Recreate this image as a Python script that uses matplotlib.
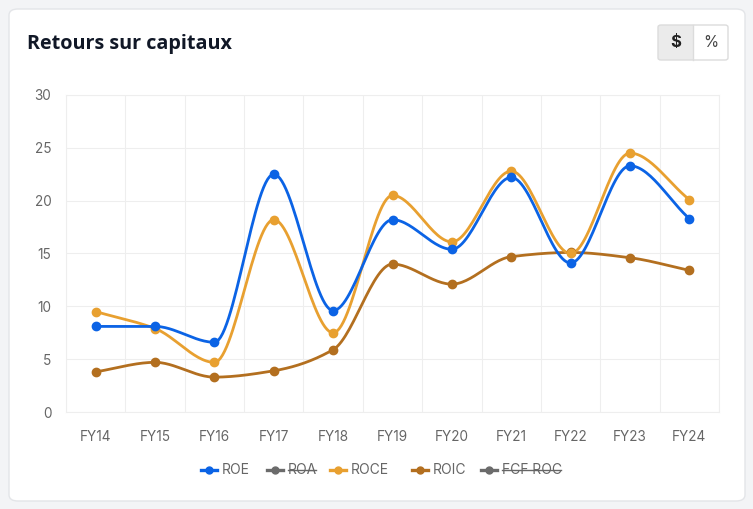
import numpy as np
import matplotlib
matplotlib.use("Agg")
import matplotlib.pyplot as plt
from matplotlib.patches import FancyBboxPatch, Rectangle
from matplotlib.lines import Line2D

years = ["FY14", "FY15", "FY16", "FY17", "FY18", "FY19", "FY20", "FY21", "FY22", "FY23", "FY24"]
roe = [8.1, 8.1, 6.6, 22.5, 9.6, 18.2, 15.4, 22.2, 14.1, 23.3, 18.3]
roce = [9.5, 7.9, 4.7, 18.2, 7.5, 20.5, 16.1, 22.8, 15.0, 24.5, 20.1]
roic = [3.8, 4.7, 3.3, 3.9, 5.9, 14.0, 12.1, 14.7, 15.1, 14.6, 13.4]

legend_names = ["ROE", "ROA", "ROCE", "ROIC", "FCF ROC"]
legend_colors = ["#0b63e5", "#6b6b6b", "#e8a030", "#b36f1f", "#6b6b6b"]
legend_hidden = [False, True, False, False, True]

BLUE, ORANGE, BROWN = "#0b63e5", "#e8a030", "#b36f1f"
plt.rcParams["font.family"] = ["Inter", "DejaVu Sans"]


def monotone(y, n=30):
    # monotone cubic (Fritsch-Carlson), x spacing 1
    y = np.asarray(y, float)
    d = np.diff(y)
    m = np.zeros_like(y)
    m[0], m[-1] = d[0], d[-1]
    for i in range(1, len(y) - 1):
        if d[i - 1] * d[i] <= 0:
            m[i] = 0
        else:
            m[i] = 2 / (1 / d[i - 1] + 1 / d[i])
    xs, ys = [], []
    for i in range(len(y) - 1):
        t = np.linspace(0, 1, n)
        h00 = 2 * t**3 - 3 * t**2 + 1
        h10 = t**3 - 2 * t**2 + t
        h01 = -2 * t**3 + 3 * t**2
        h11 = t**3 - t**2
        xs.append(i + t)
        ys.append(h00 * y[i] + h10 * m[i] + h01 * y[i + 1] + h11 * m[i + 1])
    return np.concatenate(xs), np.concatenate(ys)


fig = plt.figure(figsize=(7.53, 5.09), dpi=100)
fig.patch.set_facecolor("#f3f4f6")

# card
card = FancyBboxPatch((9 / 753, 1 - 501 / 509), 736 / 753, 492 / 509,
                      boxstyle="round,pad=0,rounding_size=0.012",
                      transform=fig.transFigure, facecolor="white",
                      edgecolor="#e3e5e8", linewidth=1, zorder=-10)
fig.patches.append(card)

fig.text(27 / 753, 1 - 44 / 509, "Retours sur capitaux", fontsize=14.2,
         fontweight="bold", family=["Open Sans", "DejaVu Sans"],
         color="#111827", va="center", ha="left")

# $ / % toggle
bx0, bx1, bxm = 658 / 753, 728 / 753, 693 / 753
by0, by1 = 1 - 60 / 509, 1 - 25 / 509
fig.patches.append(Rectangle((bx0, by0), bxm - bx0, by1 - by0, transform=fig.transFigure,
                             facecolor="#ebebeb", edgecolor="none", zorder=-5))
fig.patches.append(FancyBboxPatch((bx0, by0), bx1 - bx0, by1 - by0,
                                  boxstyle="round,pad=0,rounding_size=0.004",
                                  transform=fig.transFigure, facecolor="none",
                                  edgecolor="#dcdcdc", linewidth=1, zorder=-4))
fig.lines.append(Line2D([bxm, bxm], [by0, by1], transform=fig.transFigure,
                        color="#dcdcdc", linewidth=1))
fig.text((bx0 + bxm) / 2, (by0 + by1) / 2, "$", fontsize=12, ha="center", va="center",
         color="#222222", fontweight="bold")
fig.text((bxm + bx1) / 2, (by0 + by1) / 2, "%", fontsize=11, ha="center", va="center",
         color="#444444")

ax = fig.add_axes([66 / 753, 1 - 412 / 509, 653 / 753, 317 / 509])
ax.set_zorder(2)
ax.set_facecolor("white")
x = np.arange(len(years))
ax.set_xlim(-0.5, len(years) - 0.5)
ax.set_ylim(0, 30)
ax.set_yticks(range(0, 31, 5))
ax.set_xticks(x)
ax.set_xticklabels(years)
ax.set_xticks(np.arange(-0.5, len(years), 1), minor=True)
ax.grid(True, axis="x", which="minor", color="#eeeeee", linewidth=0.8)
ax.grid(True, axis="y", which="major", color="#eeeeee", linewidth=0.8)
ax.set_axisbelow(True)
ax.tick_params(which="both", length=0)
ax.tick_params(axis="y", labelsize=9.8, labelcolor="#666666", pad=10.5)
ax.tick_params(axis="x", labelsize=9.8, labelcolor="#666666", pad=13)
for s in ax.spines.values():
    s.set_color("#eeeeee")
    s.set_linewidth(0.8)

for vals, col in [(roic, BROWN), (roce, ORANGE), (roe, BLUE)]:
    sx, sy = monotone(vals)
    ax.plot(sx, sy, color=col, linewidth=2, solid_capstyle="round", zorder=3)
    ax.plot(x, vals, "o", color=col, markersize=6, zorder=4)

# legend
fig.canvas.draw()
renderer = fig.canvas.get_renderer()
ly = 1 - 470 / 509
mark_x = [209, 275, 338, 420, 489]
for name, col, hid, mx in zip(legend_names, legend_colors, legend_hidden, mark_x):
    fx = mx / 753
    fig.lines.append(Line2D([fx - 8 / 753, fx + 8 / 753], [ly, ly], transform=fig.transFigure,
                            color=col, linewidth=2.4))
    fig.lines.append(Line2D([fx], [ly], transform=fig.transFigure, marker="o",
                            markersize=5, color=col))
    t = fig.text(fx + 13 / 753, ly, name, fontsize=10, color="#666666",
                 va="center", ha="left")
    if hid:
        bb = t.get_window_extent(renderer).transformed(fig.transFigure.inverted())
        fig.lines.append(Line2D([bb.x0, bb.x1 - 1 / 753], [ly, ly], transform=fig.transFigure,
                                color="#666666", linewidth=1))

fig.savefig("out.png", dpi=100, facecolor=fig.get_facecolor())
